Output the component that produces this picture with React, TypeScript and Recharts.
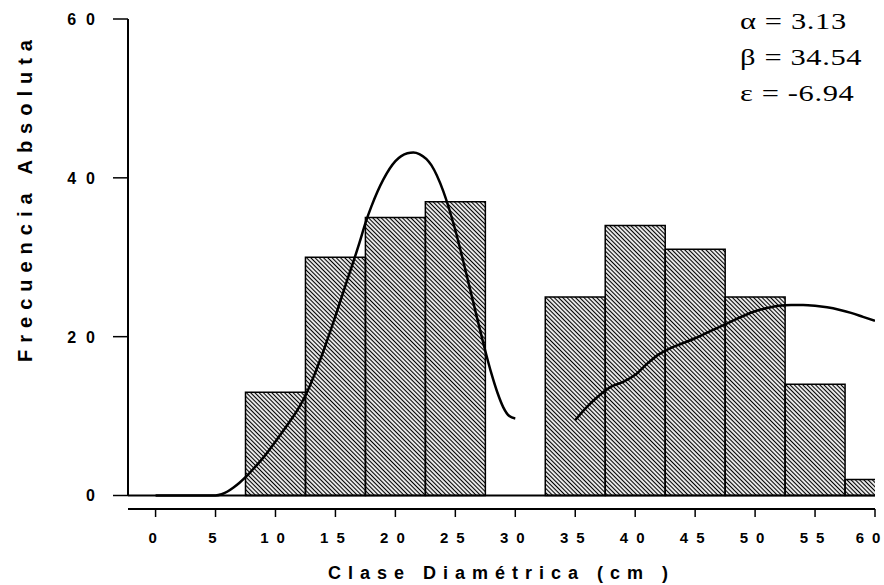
import {
  ComposedChart,
  Bar,
  Line,
  XAxis,
  YAxis,
  ReferenceLine,
} from 'recharts'

// histogram bins (class centres, cm) and observed frequencies
const binCenters = [10, 15, 20, 25, 35, 40, 45, 50, 55, 60]
const frequencies = [13, 30, 35, 37, 25, 34, 31, 25, 14, 2]

// fitted curve, first stand group
const fit1X = [0, 2, 4, 5, 5.5, 6, 6.5, 7, 7.5, 8, 9, 10, 11, 12, 12.5, 13, 14, 15, 16, 17, 17.5, 18, 19, 20, 21, 21.5, 22, 23, 24, 25, 26, 27, 27.5, 28, 28.5, 29, 29.5, 30]
const fit1Y = [0, 0, 0, 0, 0.15, 0.5, 1, 1.6, 2.3, 3.1, 4.8, 6.8, 8.9, 11.2, 12.6, 14.3, 18.2, 22.6, 27.2, 31.8, 34.3, 36.4, 39.8, 42.1, 43.1, 43.2, 43, 41.6, 38.3, 33.4, 27.4, 21.2, 18.2, 15.4, 13, 11.1, 10, 9.7]

// fitted curve, second group
const fit2X = [35, 36, 37, 38, 39, 40, 41, 42, 43, 44, 45, 46, 47, 48, 49, 50, 51, 52, 53, 54, 55, 56, 57, 58, 59, 60]
const fit2Y = [9.5, 11.2, 12.6, 13.7, 14.3, 15.2, 16.6, 17.8, 18.6, 19.2, 19.8, 20.5, 21.2, 21.9, 22.6, 23.2, 23.6, 23.9, 24, 24, 23.9, 23.7, 23.4, 23, 22.5, 22]

const xTicks = [0, 5, 10, 15, 20, 25, 30, 35, 40, 45, 50, 55, 60]
const yTicks = [0, 20, 40, 60]
const params = ['α = 3.13', 'β = 34.54', 'ε = -6.94']

const X_MIN = -2.3
const SANS = '"Liberation Sans", Arial, sans-serif'
const SERIF = '"Liberation Serif", "Times New Roman", serif'

// spaced-out digits without trailing space after the last one
function Spaced({ text, gap }: { text: string; gap: number }) {
  return (
    <>
      {text.split('').map((c, i) => (
        <tspan key={i} dx={i === 0 ? 0 : gap}>{c}</tspan>
      ))}
    </>
  )
}

function XTick({ x, y, payload }: any) {
  // last label sits at the right edge, nudge it in a little
  const dx = payload.value === 60 ? -7 : -3
  return (
    <text x={x + dx} y={y} dy={24} textAnchor="middle"
      style={{ fontFamily: SANS, fontSize: 15, fontWeight: 700 }}
      fill="#000">
      <Spaced text={String(payload.value)} gap={8} />
    </text>
  )
}

function YTick({ x, y, payload }: any) {
  return (
    <text x={x - 16} y={y} dy={6} textAnchor="end"
      style={{ fontFamily: SANS, fontSize: 16, fontWeight: 700 }}
      fill="#000">
      <Spaced text={String(payload.value)} gap={10} />
    </text>
  )
}

export default function App() {
  const bars = binCenters.map((x, i) => ({ x, freq: frequencies[i] }))
  const curve1 = fit1X.map((x, i) => ({ x, fit: fit1Y[i] }))
  const curve2 = fit2X.map((x, i) => ({ x, fit: fit2Y[i] }))

  return (
    <div style={{ position: 'absolute', left: 0, top: 0, width: 884, height: 585, background: '#fff' }}>
      <ComposedChart
        width={884}
        height={585}
        data={bars}
        barCategoryGap={0}
        barGap={0}
        margin={{ top: 19, right: 9, bottom: 0, left: 0 }}
      >
        <defs>
          <pattern id="hatch" patternUnits="userSpaceOnUse" width="3" height="3"
            patternTransform="rotate(45)">
            <line x1="0" y1="1.5" x2="3" y2="1.5" stroke="#000" strokeWidth="1.2" />
          </pattern>
        </defs>
        <XAxis
          type="number"
          dataKey="x"
          domain={[X_MIN, 60]}
          allowDataOverflow
          ticks={xTicks}
          interval={0}
          height={76}
          tickSize={8}
          axisLine={{ stroke: '#000', strokeWidth: 2 }}
          tickLine={{ stroke: '#000', strokeWidth: 1.5 }}
          tick={<XTick />}
        />
        {/* separate hidden axis so the bar width follows the 5 cm class width only */}
        <XAxis
          xAxisId="bins"
          type="number"
          dataKey="x"
          domain={[X_MIN, 60]}
          allowDataOverflow
          hide
        />
        <YAxis
          type="number"
          domain={[-1.7, 60]}
          allowDataOverflow
          ticks={yTicks}
          width={128}
          tickSize={15}
          axisLine={false}
          tickLine={{ stroke: '#000', strokeWidth: 1.5 }}
          tick={<YTick />}
        />
        <ReferenceLine
          segment={[{ x: X_MIN, y: 0 }, { x: X_MIN, y: 60 }]}
          stroke="#000"
          strokeWidth={2}
        />
        <Bar
          xAxisId="bins"
          dataKey="freq"
          fill="url(#hatch)"
          stroke="#000"
          strokeWidth={1.5}
          isAnimationActive={false}
        />
        <ReferenceLine y={0} stroke="#000" strokeWidth={2} />
        <Line
          data={curve1}
          dataKey="fit"
          type="monotone"
          stroke="#000"
          strokeWidth={2.5}
          dot={false}
          isAnimationActive={false}
        />
        <Line
          data={curve2}
          dataKey="fit"
          type="monotone"
          stroke="#000"
          strokeWidth={2.5}
          dot={false}
          isAnimationActive={false}
        />
      </ComposedChart>

      <svg width={884} height={585} style={{ position: 'absolute', left: 0, top: 0, pointerEvents: 'none' }}>
        <text
          transform="translate(32,201) rotate(-90)"
          dx={3.5}
          textAnchor="middle"
          style={{ fontFamily: SANS, fontSize: 20, fontWeight: 700, letterSpacing: 7 }}
          fill="#000"
        >
          Frecuencia Absoluta
        </text>
        <text
          x={498}
          y={579}
          dx={3.5}
          textAnchor="middle"
          style={{ fontFamily: SANS, fontSize: 18, fontWeight: 700, letterSpacing: 7 }}
          fill="#000"
        >
          Clase Diamétrica (cm )
        </text>
        {params.map((p, i) => (
          <text key={p} transform={`translate(740 ${29 + i * 36}) scale(1.27 1)`}
            style={{ fontFamily: SERIF, fontSize: 24, letterSpacing: 0.5 }}
            fill="#000">
            {p}
          </text>
        ))}
      </svg>
    </div>
  )
}
